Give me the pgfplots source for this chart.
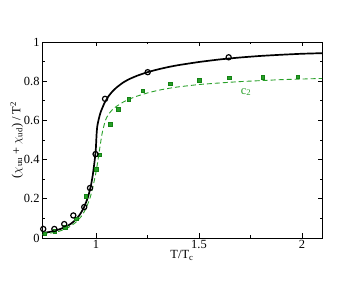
\documentclass[border=0pt]{standalone}
\usepackage{fontspec}
\setmainfont{Liberation Serif}
\usepackage{pgfplots}
\pgfplotsset{compat=1.18}

\definecolor{lgreen}{RGB}{40,160,40}
\definecolor{dgreen}{RGB}{20,130,20}

\begin{document}
\begin{tikzpicture}
\begin{axis}[
    scale only axis,
    width=280bp, height=196bp,
    xmin=0.738, xmax=2.097,
    ymin=0, ymax=1,
    xtick={1,1.5,2},
    ytick={0,0.2,0.4,0.6,0.8,1},
    minor x tick num=1,
    minor y tick num=1,
    tick align=inside,
    major tick length=4.5bp,
    minor tick length=2.5bp,
    axis line style={line width=0.9pt},
    every tick/.style={line width=0.8pt, black},
    tick label style={font=\fontsize{12.5}{13}\selectfont},
    label style={font=\fontsize{12.5}{13}\selectfont},
    xticklabel style={yshift=1bp},
    yticklabel style={xshift=1bp},
    /pgf/number format/assume math mode=true,
    xlabel={T/T\textsubscript{c}},
    ylabel={($\chi_{\mathrm{uu}}$ + $\chi_{\mathrm{ud}}$) / T\textsuperscript{2}},
    xlabel style={yshift=5bp},
    ylabel style={yshift=-6bp},
    clip=false,
]
% black curve
\addplot[black, line width=1.7pt, smooth, tension=0.3] coordinates {
(0.74,0.026) (0.77,0.030) (0.80,0.037) (0.83,0.047) (0.86,0.061) (0.88,0.074)
(0.90,0.092) (0.92,0.117) (0.94,0.152) (0.96,0.205) (0.975,0.265) (0.985,0.325)
(0.993,0.39) (0.999,0.45) (1.003,0.53) (1.006,0.568) (1.012,0.60) (1.022,0.64)
(1.04,0.686) (1.06,0.722) (1.08,0.748) (1.10,0.768) (1.13,0.792) (1.16,0.810)
(1.20,0.828) (1.25,0.846) (1.30,0.860) (1.35,0.872) (1.40,0.882) (1.50,0.898)
(1.60,0.911) (1.70,0.921) (1.80,0.929) (1.90,0.935) (2.00,0.940) (2.097,0.943)};
% green dashed curve
\addplot[lgreen, line width=0.9pt, dash pattern=on 5bp off 3bp, smooth, tension=0.3] coordinates {
(0.74,0.018) (0.78,0.025) (0.82,0.034) (0.86,0.050) (0.90,0.078) (0.93,0.112)
(0.95,0.148) (0.97,0.20) (0.985,0.26) (1.00,0.335) (1.01,0.40) (1.02,0.47)
(1.03,0.535) (1.045,0.598) (1.06,0.630) (1.08,0.655) (1.10,0.672) (1.13,0.692)
(1.16,0.708) (1.20,0.724) (1.25,0.740) (1.30,0.753) (1.35,0.763) (1.40,0.771)
(1.50,0.783) (1.60,0.791) (1.70,0.798) (1.80,0.803) (1.90,0.808) (2.00,0.811) (2.097,0.814)};
% green points
\addplot[only marks, mark=square*, mark size=1.8bp, draw=dgreen, fill=lgreen] coordinates {
(0.752,0.022) (0.80,0.034) (0.85,0.055) (0.903,0.098) (0.95,0.212) (1.0,0.351)
(1.016,0.424) (1.068,0.582) (1.108,0.657) (1.159,0.708) (1.227,0.752)
(1.359,0.788) (1.50,0.806) (1.647,0.817) (1.809,0.820) (1.979,0.822)};
% black points
\addplot[only marks, mark=o, mark size=2.6bp, line width=1.2pt, black] coordinates {
(0.744,0.046) (0.798,0.046) (0.846,0.071) (0.890,0.115) (0.943,0.158)
(0.971,0.255) (0.998,0.428) (1.044,0.710) (1.251,0.846) (1.644,0.922)};
\node[lgreen, font=\fontsize{12.5}{13}\selectfont] at (axis cs:1.728,0.745) {c\textsubscript{2}};
\end{axis}
\pgfresetboundingbox
\path (current axis.south west) ++(-42bp,-43bp) rectangle ([shift={(41bp,42bp)}]current axis.north east);
\end{tikzpicture}
\end{document}
